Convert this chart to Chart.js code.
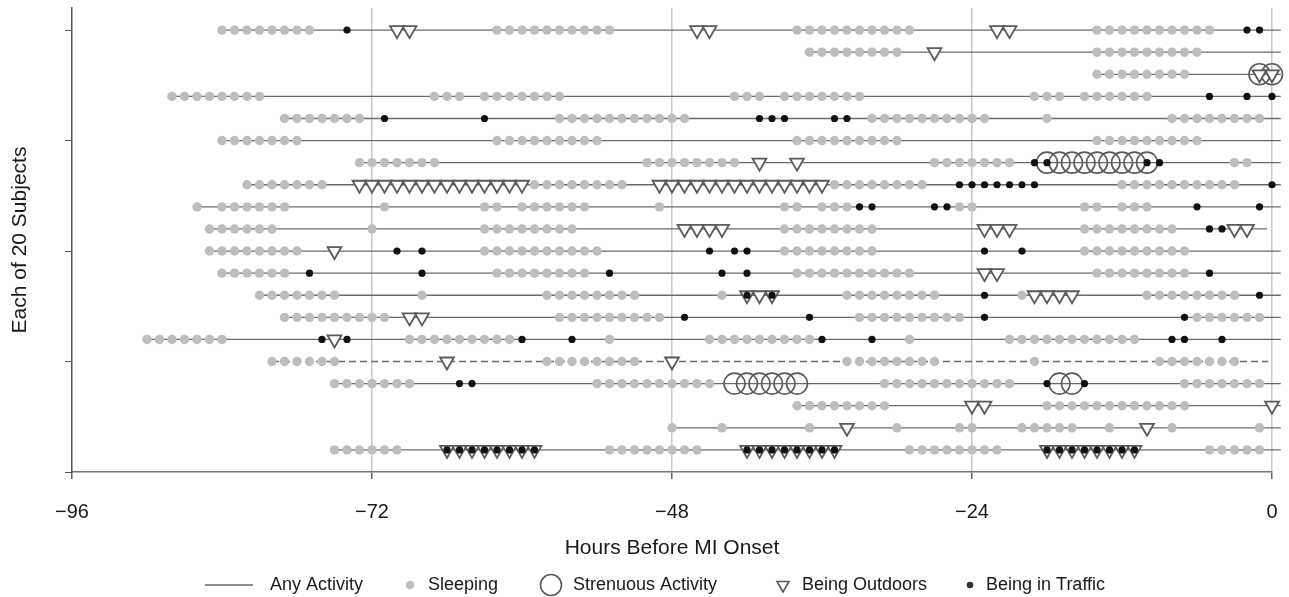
<!DOCTYPE html>
<html>
<head>
<meta charset="utf-8">
<script src="https://cdn.jsdelivr.net/npm/chart.js@4.4.1/dist/chart.umd.min.js"></script>
<style>
  body { margin: 0; background: #fff; }
  #wrap { width: 1289px; height: 597px; }
</style>
</head>
<body>
<div id="wrap"><canvas id="activityChart"></canvas></div>
<script>
// subjects, top row = subject 1
const subjects = [1, 2, 3, 4, 5, 6, 7, 8, 9, 10, 11, 12, 13, 14, 15, 16, 17, 18, 19, 20];
const activityStart = [-84, -37, -14, -88, -79, -84, -73, -82, -86, -85, -85, -84, -81, -79, -90, -80, -75, -38, -48, -75];
const activityEnd = [0.7, 0.7, 0.7, 0.7, 0.7, 0.7, 0.7, 0.7, 0.7, -0.4, 0.7, 0.7, 0.7, 0.7, 0.7, -0.3, 0.7, 0.7, 0.7, 0.7];
const dashedSubjects = [16];

const sleepingHours = [
  [-84, -83, -82, -81, -80, -79, -78, -77, -62, -61, -60, -59, -58, -57, -56, -55, -54, -53, -38, -37, -36, -35, -34, -33, -32, -31, -30, -29, -14, -13, -12, -11, -10, -9, -8, -7, -6, -5],
  [-37, -36, -35, -34, -33, -32, -31, -30, -14, -13, -12, -11, -10, -9, -8, -7, -6],
  [-14, -13, -12, -11, -10, -9, -8, -7],
  [-88, -87, -86, -85, -84, -83, -82, -81, -67, -66, -65, -63, -62, -61, -60, -59, -58, -57, -43, -42, -41, -39, -38, -37, -36, -35, -34, -33, -19, -18, -17, -15, -14, -13, -12, -11, -10],
  [-79, -78, -77, -76, -75, -74, -73, -57, -56, -55, -54, -53, -52, -51, -50, -49, -48, -47, -32, -31, -30, -29, -28, -27, -26, -25, -24, -23, -18, -8, -7, -6, -5, -4, -3, -2, -1],
  [-84, -83, -82, -81, -80, -79, -78, -62, -61, -60, -59, -58, -57, -56, -55, -54, -38, -37, -36, -35, -34, -33, -32, -31, -30, -14, -13, -12, -11, -10, -9, -8, -7, -6],
  [-73, -72, -71, -70, -69, -68, -67, -50, -49, -48, -47, -46, -45, -44, -43, -27, -26, -25, -24, -23, -22, -21, -3, -2],
  [-82, -81, -80, -79, -78, -77, -76, -59, -58, -57, -56, -55, -54, -53, -52, -35, -34, -33, -32, -31, -30, -29, -28, -12, -11, -10, -9, -8, -7, -6, -5, -4, -3],
  [-86, -84, -83, -82, -81, -80, -79, -71, -63, -62, -60, -59, -58, -57, -56, -55, -49, -39, -38, -36, -35, -34, -25, -24, -15, -14, -12, -11, -10],
  [-85, -84, -83, -82, -81, -80, -72, -63, -62, -61, -60, -59, -58, -57, -56, -39, -38, -37, -36, -35, -34, -33, -32, -15, -14, -13, -12, -11, -10, -9, -8],
  [-85, -84, -83, -82, -81, -80, -79, -78, -63, -62, -61, -60, -59, -58, -57, -56, -55, -54, -39, -38, -37, -36, -35, -34, -33, -32, -15, -14, -13, -12, -11, -10, -9, -8, -7],
  [-84, -83, -82, -81, -80, -79, -62, -61, -60, -59, -58, -57, -56, -55, -38, -37, -36, -35, -34, -33, -32, -31, -30, -29, -14, -13, -12, -11, -10, -9, -8, -7],
  [-81, -80, -79, -78, -77, -76, -75, -68, -58, -57, -56, -55, -54, -53, -52, -51, -44, -34, -33, -32, -31, -30, -29, -28, -27, -20, -10, -9, -8, -7, -6, -5, -4, -3],
  [-79, -78, -77, -76, -75, -74, -73, -72, -71, -57, -56, -55, -54, -53, -52, -51, -50, -49, -33, -32, -31, -30, -29, -28, -27, -26, -25, -6, -5, -4, -3, -2, -1],
  [-90, -89, -88, -87, -86, -85, -84, -69, -68, -67, -66, -65, -64, -63, -62, -61, -53, -45, -44, -43, -42, -41, -40, -39, -38, -37, -29, -21, -20, -19, -18, -17, -16, -15, -14, -13, -12, -11],
  [-80, -79, -78, -77, -76, -75, -58, -57, -56, -55, -54, -53, -52, -51, -34, -33, -32, -31, -30, -29, -28, -27, -19, -9, -8, -7, -6, -5, -4, -3],
  [-75, -74, -73, -72, -71, -70, -69, -54, -53, -52, -51, -50, -49, -48, -47, -46, -45, -31, -30, -29, -28, -27, -26, -25, -24, -23, -22, -21, -7, -6, -5, -4, -3, -2, -1],
  [-38, -37, -36, -35, -34, -33, -32, -31, -18, -17, -16, -15, -14, -13, -12, -11, -10, -9, -8, -7],
  [-48, -44, -37, -30, -25, -24, -20, -19, -18, -17, -16, -13, -8, -1],
  [-75, -74, -73, -72, -71, -70, -53, -52, -51, -50, -49, -48, -47, -46, -29, -28, -27, -26, -25, -24, -23, -22, -5, -4, -3, -2, -1]
];

const strenuousHours = [
  [], [], [-1, 0], [], [], [], [-18, -17, -16, -15, -14, -13, -12, -11, -10], [], [], [],
  [], [], [], [], [], [], [-43, -42, -41, -40, -39, -38, -17, -16], [], [], []
];

const outdoorHours = [
  [-70, -69, -46, -45, -22, -21],
  [-27],
  [-1, 0],
  [],
  [],
  [],
  [-41, -38],
  [-73, -72, -71, -70, -69, -68, -67, -66, -65, -64, -63, -62, -61, -60, -49, -48, -47, -46, -45, -44, -43, -42, -41, -40, -39, -38, -37, -36],
  [],
  [-47, -46, -45, -44, -23, -22, -21, -3, -2],
  [-75],
  [-23, -22],
  [-42, -41, -40, -19, -18, -17, -16],
  [-69, -68],
  [-75],
  [-66, -48],
  [],
  [-24, -23, 0],
  [-34, -10],
  [-66, -65, -64, -63, -62, -61, -60, -59, -42, -41, -40, -39, -38, -37, -36, -35, -18, -17, -16, -15, -14, -13, -12, -11]
];

const trafficHours = [
  [-74, -2, -1],
  [],
  [],
  [-5, -2, 0],
  [-71, -63, -41, -40, -39, -35, -34],
  [],
  [-19, -18, -10, -9],
  [-25, -24, -23, -22, -21, -20, -19, 0],
  [-33, -32, -27, -26, -6, -1],
  [-5, -4],
  [-70, -68, -45, -43, -42, -23, -20],
  [-77, -68, -53, -44, -42, -5],
  [-42, -40, -23, -1],
  [-47, -37, -23, -7],
  [-76, -74, -60, -56, -36, -32, -8, -7, -4],
  [],
  [-65, -64, -18, -15],
  [],
  [],
  [-66, -65, -64, -63, -62, -61, -60, -59, -42, -41, -40, -39, -38, -37, -36, -35, -18, -17, -16, -15, -14, -13, -12, -11]
];

const xTicks = [-96, -72, -48, -24, 0];
const yTicks = [1, 6, 11, 16, 21];
const legendLabels = ["Any Activity", "Sleeping", "Strenuous Activity", "Being Outdoors", "Being in Traffic"];

const FONT = '"Liberation Sans", Arial, Helvetica, sans-serif';
const lineGray = "#6a6a6a";
const markGray = "#5a5a5a";
const sleepGray = "#bdbdbd";

function toPoints(hourLists) {
  let pts = [];
  hourLists.forEach(function (hours, i) {
    hours.forEach(function (h) {
      pts.push({ x: h, y: subjects[i] });
    });
  });
  return pts;
}

// first dataset is drawn on top
let datasets = [
  {
    label: legendLabels[4],
    data: toPoints(trafficHours),
    pointStyle: "circle",
    pointRadius: 3.6,
    backgroundColor: "#111",
    borderColor: "#111",
    borderWidth: 0,
    clip: false
  },
  {
    label: legendLabels[3],
    data: toPoints(outdoorHours),
    pointStyle: "triangle",
    rotation: 180,
    pointRadius: 8,
    backgroundColor: "#fff",
    borderColor: markGray,
    borderWidth: 1.8,
    clip: false
  },
  {
    label: legendLabels[2],
    data: toPoints(strenuousHours),
    pointStyle: "circle",
    pointRadius: 10.5,
    backgroundColor: "rgba(0,0,0,0)",
    borderColor: markGray,
    borderWidth: 1.6,
    clip: false
  },
  {
    label: legendLabels[1],
    data: toPoints(sleepingHours),
    pointStyle: "circle",
    pointRadius: 4.7,
    backgroundColor: sleepGray,
    borderColor: sleepGray,
    borderWidth: 0,
    clip: false
  }
];

subjects.forEach(function (s, i) {
  datasets.push({
    label: legendLabels[0],
    type: "line",
    data: [
      { x: activityStart[i], y: s },
      { x: activityEnd[i], y: s }
    ],
    showLine: true,
    pointRadius: 0,
    borderColor: lineGray,
    borderWidth: 1.3,
    borderDash: dashedSubjects.includes(s) ? [7, 4] : [],
    clip: false
  });
});

const legendPlugin = {
  id: "activityLegend",
  afterDraw(chart) {
    const ctx = chart.ctx;
    const y = 585;
    ctx.save();
    ctx.font = "18px " + FONT;
    ctx.fillStyle = "#1a1a1a";
    ctx.textBaseline = "middle";
    ctx.textAlign = "left";

    // Any Activity
    ctx.strokeStyle = lineGray;
    ctx.lineWidth = 1.5;
    ctx.beginPath();
    ctx.moveTo(205, y);
    ctx.lineTo(253, y);
    ctx.stroke();
    ctx.fillText(legendLabels[0], 270, y);

    // Sleeping
    ctx.fillStyle = sleepGray;
    ctx.beginPath();
    ctx.arc(410, y, 4.3, 0, Math.PI * 2);
    ctx.fill();
    ctx.fillStyle = "#1a1a1a";
    ctx.fillText(legendLabels[1], 428, y);

    // Strenuous
    ctx.strokeStyle = markGray;
    ctx.lineWidth = 1.6;
    ctx.beginPath();
    ctx.arc(551, y, 10.5, 0, Math.PI * 2);
    ctx.stroke();
    ctx.fillText(legendLabels[2], 573, y);

    // Outdoors
    const r = 7;
    ctx.beginPath();
    ctx.moveTo(783, y + r);
    ctx.lineTo(783 - r * Math.sin(Math.PI / 3), y - r / 2);
    ctx.lineTo(783 + r * Math.sin(Math.PI / 3), y - r / 2);
    ctx.closePath();
    ctx.stroke();
    ctx.fillText(legendLabels[3], 802, y);

    // Traffic
    ctx.fillStyle = "#333";
    ctx.beginPath();
    ctx.arc(970, y, 3.3, 0, Math.PI * 2);
    ctx.fill();
    ctx.fillStyle = "#1a1a1a";
    ctx.fillText(legendLabels[4], 986, y);
    ctx.restore();
  }
};

var ctx = document.getElementById("activityChart").getContext("2d");
var activityChart = new Chart(ctx, {
  type: "scatter",
  data: { datasets: datasets },
  options: {
    responsive: true,
    maintainAspectRatio: false,
    animation: false,
    events: [],
    layout: { autoPadding: false, padding: { top: 8, right: 17, left: 0, bottom: 0 } },
    plugins: {
      legend: { display: false },
      tooltip: { enabled: false }
    },
    scales: {
      x: {
        type: "linear",
        position: "bottom",
        min: -96,
        max: 0,
        afterBuildTicks: function (scale) {
          scale.ticks = xTicks.map(function (v) { return { value: v }; });
        },
        afterFit: function (scale) {
          scale.height = 125;
          scale.paddingLeft = 0;
          scale.paddingRight = 0;
        },
        grid: {
          color: function (c) {
            return c.tick && c.tick.value === -96 ? "rgba(0,0,0,0)" : "#c9c9c9";
          },
          lineWidth: 1.5,
          drawTicks: true,
          tickLength: 7,
          tickColor: "#666"
        },
        border: { color: "#777", width: 1.5 },
        ticks: {
          padding: 21,
          color: "#1a1a1a",
          font: { family: FONT, size: 20 },
          maxRotation: 0,
          callback: function (v) {
            return v < 0 ? "\u2212" + Math.abs(v) : String(v);
          }
        },
        title: {
          display: true,
          text: "Hours Before MI Onset",
          color: "#1a1a1a",
          font: { family: FONT, size: 21 },
          padding: { top: 0, bottom: 36 }
        }
      },
      y: {
        type: "linear",
        reverse: true,
        min: 0,
        max: 21,
        afterBuildTicks: function (scale) {
          scale.ticks = yTicks.map(function (v) { return { value: v }; });
        },
        afterFit: function (scale) {
          scale.width = 72;
          scale.paddingTop = 0;
          scale.paddingBottom = 0;
        },
        grid: {
          drawOnChartArea: false,
          drawTicks: true,
          tickLength: 7,
          tickColor: "#555"
        },
        border: { color: "#555", width: 1.5 },
        ticks: {
          callback: function () { return ""; }
        },
        title: {
          display: true,
          text: "Each of 20 Subjects",
          color: "#1a1a1a",
          font: { family: FONT, size: 21 },
          padding: { top: 8, bottom: 0 }
        }
      }
    }
  },
  plugins: [legendPlugin]
});
</script>
</body>
</html>
